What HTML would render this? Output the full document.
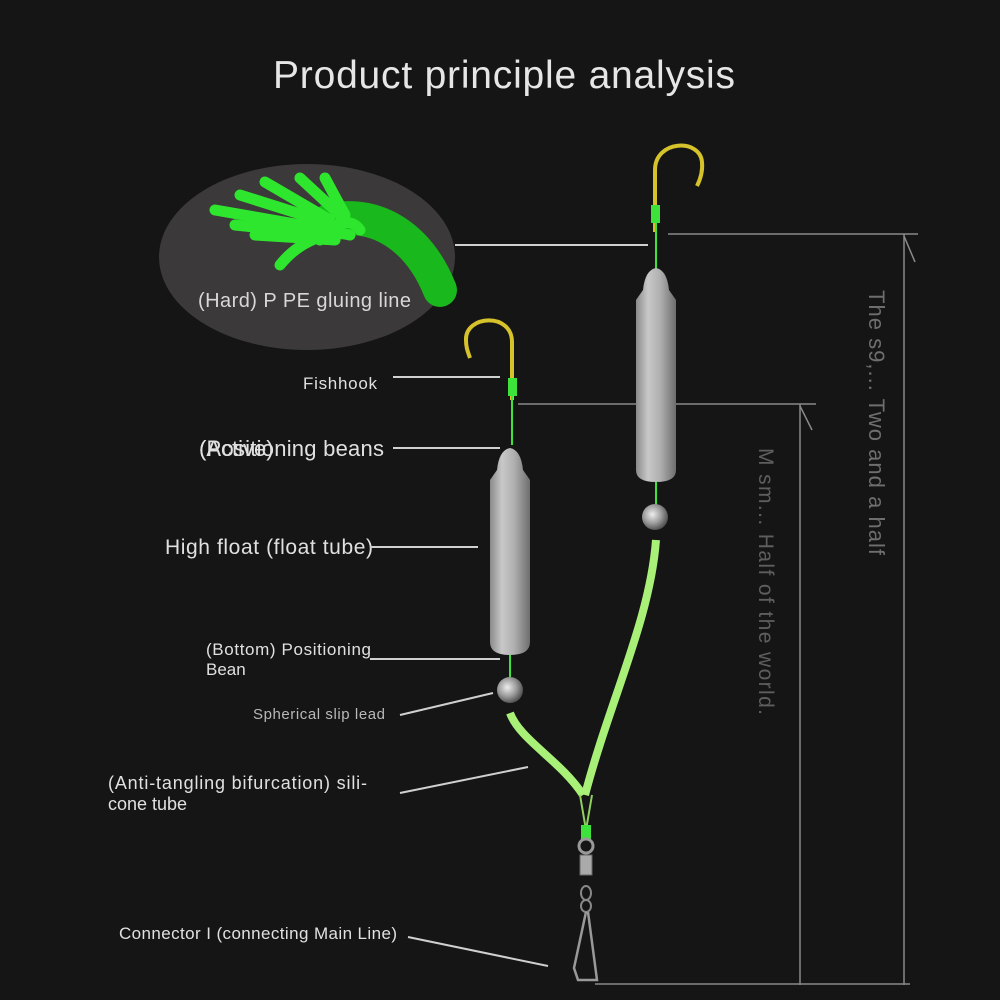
<!DOCTYPE html>
<html><head><meta charset="utf-8"><style>
html,body{margin:0;padding:0;background:#151515;}
svg{display:block}
text{font-family:"Liberation Sans",sans-serif;}
</style></head><body>
<svg width="1000" height="1000" viewBox="0 0 1000 1000" xmlns="http://www.w3.org/2000/svg">
<defs>
<linearGradient id="fl" x1="0" x2="1">
<stop offset="0" stop-color="#8a8a8a"/><stop offset="0.3" stop-color="#c8c8c8"/><stop offset="0.6" stop-color="#b0b0b0"/><stop offset="1" stop-color="#6e6e6e"/>
</linearGradient>
<radialGradient id="bd" cx="0.4" cy="0.4" r="0.6">
<stop offset="0" stop-color="#eee"/><stop offset="0.6" stop-color="#999"/><stop offset="1" stop-color="#555"/>
</radialGradient>
</defs>
<rect width="1000" height="1000" fill="#151515"/>
<text x="504" y="88" font-size="39" fill="#e6e6e6" text-anchor="middle" textLength="462">Product principle analysis</text>

<ellipse cx="307" cy="257" rx="148" ry="93" fill="#3b3939"/>
<path d="M330 220 C380 210 420 240 440 290" stroke="#19b81c" stroke-width="34" fill="none" stroke-linecap="round"/>
<g stroke="#2ee62e" stroke-width="11" stroke-linecap="round" fill="none">
<path d="M215 210 L330 230"/><path d="M240 195 L335 225"/><path d="M265 182 L330 220"/>
<path d="M300 178 L340 215"/><path d="M325 178 L345 215"/><path d="M235 225 L330 235"/>
<path d="M255 235 L335 240"/><path d="M280 265 C300 240 330 230 350 235"/><path d="M320 240 C330 225 350 215 360 230"/>
</g>
<text x="198" y="307" font-size="20" fill="#d8d8d8" textLength="213">(Hard) P PE gluing line</text>
<line x1="455" y1="245" x2="648" y2="245" stroke="#cfcfcf" stroke-width="2"/>

<g stroke="#8a8a8a" stroke-width="1.5" fill="none">
<line x1="668" y1="234" x2="918" y2="234"/><line x1="904" y1="234" x2="904" y2="985"/><line x1="904" y1="236" x2="915" y2="262"/>
<line x1="518" y1="404" x2="816" y2="404"/><line x1="800" y1="404" x2="800" y2="985"/><line x1="800" y1="406" x2="812" y2="430"/>
<line x1="595" y1="984" x2="910" y2="984"/>
</g>
<text transform="translate(869,290) rotate(90)" font-size="22" fill="#6e6e6e" textLength="265">The s9,... Two and a half</text>
<text transform="translate(759,448) rotate(90)" font-size="21" fill="#5e5e5e" textLength="267">M sm... Half of the world.</text>

<path d="M655 232 L655 170 C655 140 700 138 702 162 C703 172 700 180 697 186" stroke="#d6c22a" stroke-width="4" fill="none"/>
<rect x="651" y="205" width="9" height="18" fill="#3de23a"/>
<line x1="656" y1="223" x2="656" y2="270" stroke="#3de23a" stroke-width="2"/>
<path d="M643 290 Q645 270 656 268 Q667 270 669 290 L676 300 L676 470 Q676 482 656 482 Q636 482 636 470 L636 300 Z" fill="url(#fl)"/>
<line x1="656" y1="482" x2="656" y2="505" stroke="#3de23a" stroke-width="2"/>
<circle cx="655" cy="517" r="13" fill="url(#bd)"/>
<path d="M656 540 C650 620 610 700 585 795" stroke="#a9f078" stroke-width="8" fill="none"/>

<path d="M512 400 L512 342 C512 312 465 315 466 340 C466 348 468 352 470 358" stroke="#d6c22a" stroke-width="4" fill="none"/>
<rect x="508" y="378" width="9" height="18" fill="#3de23a"/>
<line x1="512" y1="396" x2="512" y2="445" stroke="#3de23a" stroke-width="2"/>
<path d="M497 470 Q499 450 510 448 Q521 450 523 470 L530 480 L530 642 Q530 655 510 655 Q490 655 490 642 L490 480 Z" fill="url(#fl)"/>
<line x1="510" y1="655" x2="510" y2="678" stroke="#3de23a" stroke-width="2"/>
<circle cx="510" cy="690" r="13" fill="url(#bd)"/>
<path d="M510 713 C520 740 560 760 583 795" stroke="#a9f078" stroke-width="8" fill="none"/>

<path d="M580 795 L586 830 L592 795" stroke="#8fd060" stroke-width="2" fill="none"/>
<rect x="581" y="825" width="10" height="14" fill="#3de23a"/>
<circle cx="586" cy="846" r="7" stroke="#999" stroke-width="3" fill="none"/>
<rect x="580" y="855" width="12" height="20" fill="#aaa" stroke="#666"/>
<ellipse cx="586" cy="893" rx="5" ry="7" stroke="#888" stroke-width="2" fill="none"/>
<ellipse cx="586" cy="906" rx="5" ry="6" stroke="#888" stroke-width="2" fill="none"/>
<path d="M586 912 L574 968 L578 980 L597 980 L588 912" stroke="#999" stroke-width="2.5" fill="none"/>

<g fill="#e0e0e0">
<text x="303" y="389" font-size="17" textLength="74">Fishhook</text>
<text x="199" y="456" font-size="22" textLength="185">(Positioning beans</text>
<text x="199" y="456" font-size="22">(Active)</text>
<text x="165" y="554" font-size="21" textLength="208">High float (float tube)</text>
<text x="206" y="655" font-size="17" textLength="165">(Bottom) Positioning</text>
<text x="206" y="675" font-size="17">Bean</text>
<text x="253" y="719" font-size="15" fill="#b8b8b8" textLength="132">Spherical slip lead</text>
<text x="108" y="789" font-size="18" textLength="259">(Anti-tangling bifurcation) sili-</text>
<text x="108" y="810" font-size="18">cone tube</text>
<text x="119" y="939" font-size="17" textLength="278">Connector I (connecting Main Line)</text>
</g>
<g stroke="#d0d0d0" stroke-width="2">
<line x1="393" y1="377" x2="500" y2="377"/>
<line x1="393" y1="448" x2="500" y2="448"/>
<line x1="370" y1="547" x2="478" y2="547"/>
<line x1="370" y1="659" x2="500" y2="659"/>
<line x1="400" y1="715" x2="493" y2="693"/>
<line x1="400" y1="793" x2="528" y2="767"/>
<line x1="408" y1="937" x2="548" y2="966"/>
</g>
</svg>
</body></html>
